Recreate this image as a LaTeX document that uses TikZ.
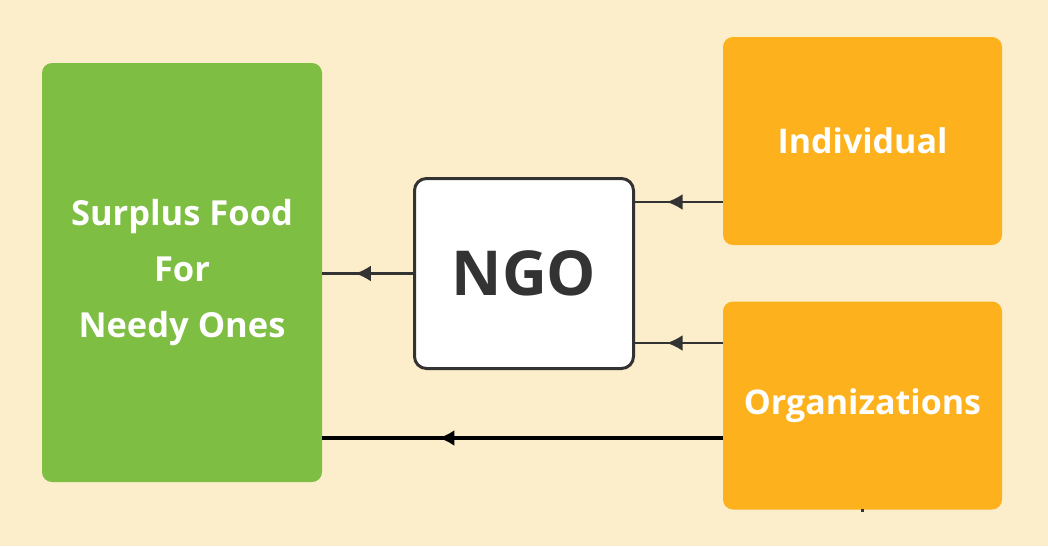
\documentclass[tikz,border=0pt]{standalone}
\usepackage{fontspec}
\setmainfont{Open Sans}
\usetikzlibrary{arrows.meta,decorations.markings}
\definecolor{bg}{HTML}{FCEDCB}
\definecolor{grn}{HTML}{7DBE43}
\definecolor{org}{HTML}{FDB11C}
\definecolor{dk}{HTML}{333333}
\tikzset{
  greenbox/.style={fill=grn, rounded corners=10pt, minimum width=280pt, minimum height=419pt, inner sep=0pt,
    text=white, align=center, font=\fontsize{34.5}{56}\selectfont\bfseries},
  orangebox/.style={fill=org, rounded corners=10pt, minimum width=279pt, minimum height=208pt, inner sep=0pt,
    text=white, align=center, font=\fontsize{34}{40}\selectfont\bfseries},
  ngobox/.style={fill=white, draw=dk, line width=3pt, rounded corners=12pt, minimum width=219pt, minimum height=190pt,
    inner sep=0pt, text=dk, font=\fontsize{62}{70}\selectfont\bfseries},
  midarrow/.style={postaction={decorate}, decoration={markings, mark=at position #1 with {\arrow{Latex[length=16pt,width=16pt]}}}},
  thinconn/.style={draw=dk, line width=2.5pt},
  thickconn/.style={draw=black, line width=3.5pt},
}
\begin{document}
\begin{tikzpicture}[x=1pt,y=-1pt]
\fill[bg] (0,0) rectangle (1048,546);
\useasboundingbox (0,0) rectangle (1048,546);
\node[greenbox] (food) at (182,272.5) {Surplus Food\\For\\Needy Ones};
\node[orangebox] (ind) at (862.5,141) {Individual};
\node[orangebox] (orgs) at (862.5,405.5) {Organizations};
\node[ngobox] (ngo) at (524,273.5) {NGO};
\coordinate (a1) at ([yshift=-61pt]ind.west);
\coordinate (a2) at ([yshift=62.5pt]orgs.west);
\coordinate (a3) at ([yshift=-32.5pt]orgs.west);
\draw[thinconn, midarrow=0.64] (ngo.west) -- (food.east |- ngo.west);
\draw[thinconn, midarrow=0.64] (a1) -- (ngo.east |- a1);
\draw[thinconn, midarrow=0.64] (a2) -- (ngo.east |- a2);
\draw[thickconn, midarrow=0.71] (a3) -- (food.east |- a3);
\fill[black!80] (861,509) rectangle (863.5,512);
\end{tikzpicture}
\end{document}
